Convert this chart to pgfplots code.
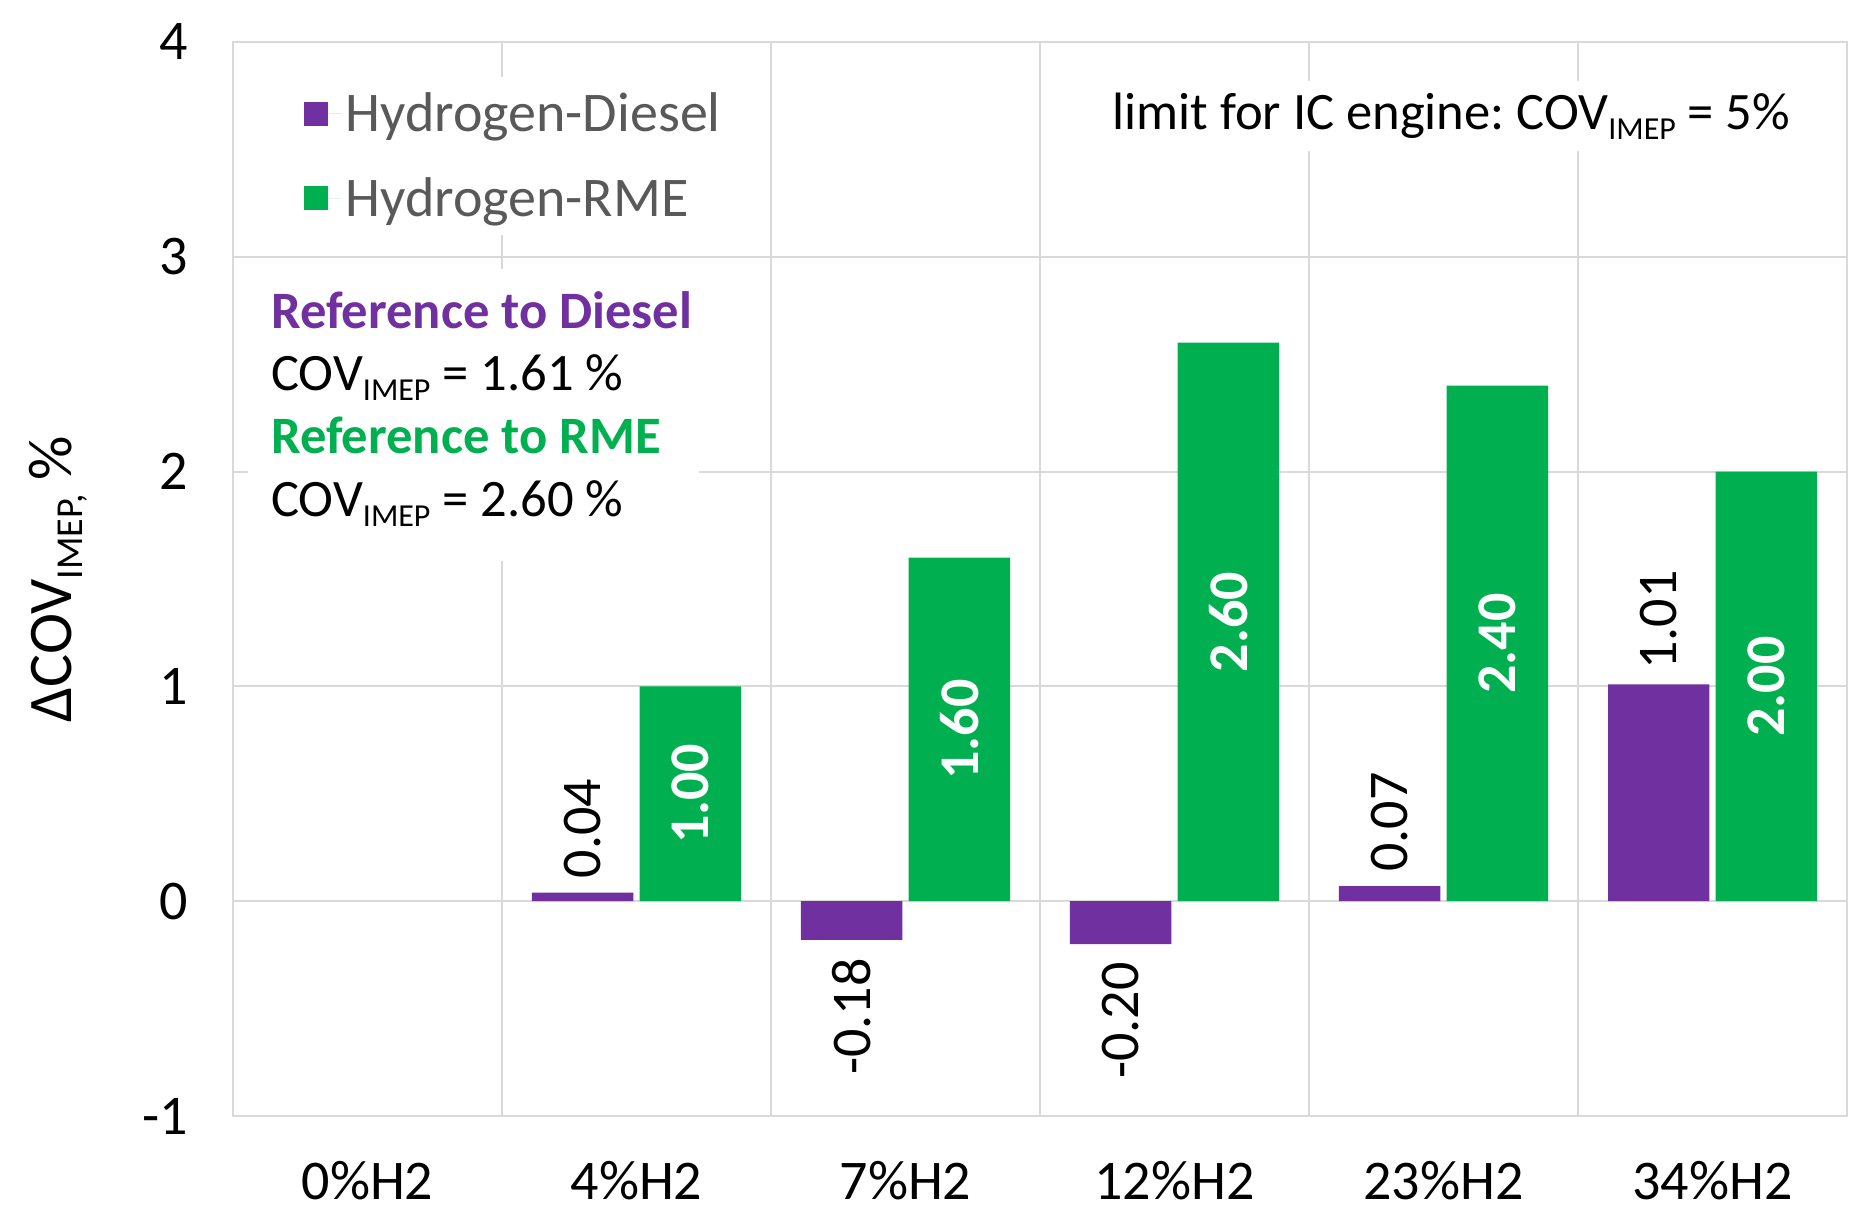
\documentclass[border=0pt]{standalone}
\usepackage{pgfplots}
\pgfplotsset{compat=1.18}
\usepackage{fontspec}
\setmainfont{Carlito}
\frenchspacing
\definecolor{cpurple}{HTML}{7030A0}
\definecolor{cgreen}{HTML}{00B050}
\definecolor{gridgray}{HTML}{D9D9D9}
\definecolor{leggray}{HTML}{595959}
\newcommand{\fs}{\fontsize{28bp}{34bp}\selectfont}
\newcommand{\fss}{\fontsize{26.3bp}{32bp}\selectfont}
\newcommand{\sub}[1]{\raisebox{-5bp}{\fontsize{16bp}{18bp}\selectfont #1}}
\newcommand{\subl}[1]{\raisebox{-5.5bp}{\fontsize{19bp}{20bp}\selectfont #1}}
\begin{document}
\begin{tikzpicture}
\useasboundingbox (-116.5bp,-57bp) rectangle (819bp,558bp);
\begin{axis}[
  at={(0,0)}, anchor=south west,
  scale only axis, width=807bp, height=537bp,
  xmin=-0.5, xmax=5.5, ymin=-1, ymax=4,
  xtick={0,...,5},
  xticklabels={0\%H2,4\%H2,7\%H2,12\%H2,23\%H2,34\%H2},
  minor xtick={0.5,1.5,2.5,3.5,4.5},
  ytick={-1,0,1,2,3,4},
  yticklabels={-1,0,1,2,3,4},
  xminorgrids, ymajorgrids,
  grid style={gridgray, line width=1bp},
  minor grid style={gridgray, line width=1bp},
  axis line style={gridgray, line width=1bp},
  major tick length=0pt, minor tick length=0pt,
  tick label style={font=\fs, text=black},
  yticklabel style={xshift=-19bp},
  xticklabel style={yshift=-19bp},
  ylabel={\fontsize{31bp}{36bp}\selectfont ΔCOV\subl{IMEP,} \%},
  ylabel style={at={(rel axis cs:-0.108,0.5)}, anchor=center},
  legend style={at={(axis cs:-0.284,3.84)}, anchor=north west, draw=none, fill=white,
    font=\fs, text=leggray, inner sep=6bp, row sep=17.4bp,
    nodes={inner sep=2bp}},
  legend cell align=left,
  legend image code/.code={\fill[#1] (0bp,-6bp) rectangle (12bp,6bp); \path (0bp,0bp) -- (19bp,0bp);},
]
\addplot[ybar, bar width=0.377, bar shift=-0.2, fill=cpurple, draw=none]
  coordinates {(1,0.04) (2,-0.18) (3,-0.20) (4,0.07) (5,1.01)};
\addlegendentry{Hydrogen-Diesel}
\addplot[ybar, bar width=0.377, bar shift=0.2, fill=cgreen, draw=none]
  coordinates {(1,1.00) (2,1.60) (3,2.60) (4,2.40) (5,2.00)};
\addlegendentry{Hydrogen-RME}
% value labels
\addplot[draw=none, forget plot, nodes near coords, point meta=explicit symbolic,
  every node near coord/.append style={rotate=90, anchor=west, font=\fs, text=black, inner xsep=7bp, inner ysep=0pt}]
  coordinates {(0.8,0.04)[0.04] (3.8,0.07)[0.07] (4.8,1.01)[1.01]};
\addplot[draw=none, forget plot, nodes near coords, point meta=explicit symbolic,
  every node near coord/.append style={rotate=90, anchor=east, font=\fs, text=black, inner xsep=9bp, inner ysep=0pt}]
  coordinates {(1.8,-0.18)[-0.18] (2.8,-0.20)[-0.20]};
\addplot[draw=none, forget plot, nodes near coords, point meta=explicit symbolic,
  every node near coord/.append style={rotate=90, anchor=center, font=\fs\bfseries, text=white, inner sep=0pt}]
  coordinates {(1.2,0.50)[1.00] (2.2,0.80)[1.60] (3.2,1.30)[2.60] (4.2,1.20)[2.40] (5.2,1.00)[2.00]};
% reference box
\fill[white] (axis cs:-0.443,2.944) rectangle (axis cs:1.233,1.583);
\node[anchor=base west, font=\fss\bfseries, text=cpurple, inner sep=0pt] at (axis cs:-0.359,2.667) {Reference to Diesel};
\node[anchor=base west, font=\fss, text=black, inner sep=0pt] at (axis cs:-0.359,2.378) {COV\sub{IMEP} = 1.61 \%};
\node[anchor=base west, font=\fss\bfseries, text=cgreen, inner sep=0pt] at (axis cs:-0.359,2.083) {Reference to RME};
\node[anchor=base west, font=\fss, text=black, inner sep=0pt] at (axis cs:-0.359,1.789) {COV\sub{IMEP} = 2.60 \%};
\node[anchor=base east, fill=white, font=\fss, text=black, inner sep=6bp] at (axis cs:5.335,3.594) {limit for IC engine: COV\sub{IMEP} = 5\%};
\end{axis}
\end{tikzpicture}
\end{document}
